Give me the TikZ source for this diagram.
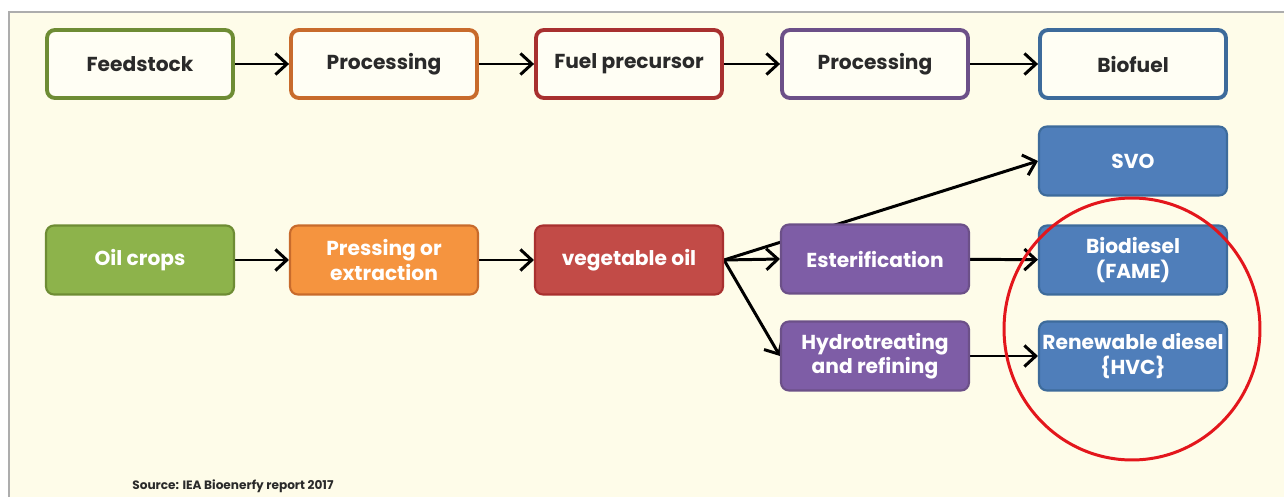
\documentclass[tikz,border=0pt]{standalone}
\usepackage{fontspec}
\setmainfont{Poppins}
\usetikzlibrary{arrows.meta}

\definecolor{paper}{HTML}{FEFCE9}
\definecolor{rim}{HTML}{ADADAD}
\definecolor{topfill}{HTML}{FFFEF4}
\definecolor{toptext}{HTML}{2A2A2A}
\definecolor{grnline}{HTML}{6E8C34}
\definecolor{orgline}{HTML}{C86B2C}
\definecolor{redline}{HTML}{A8302F}
\definecolor{purline}{HTML}{6C5088}
\definecolor{bluline}{HTML}{3D6B9B}
\definecolor{grnfill}{HTML}{8DB34B}
\definecolor{orgfill}{HTML}{F5943F}
\definecolor{redfill}{HTML}{C24B47}
\definecolor{purfill}{HTML}{7E5DA6}
\definecolor{blufill}{HTML}{4F7EBA}
\definecolor{ringred}{HTML}{E3161C}

\pgfdeclarelayer{paperlayer}
\pgfdeclarelayer{linelayer}
\pgfsetlayers{paperlayer,linelayer,main}

\tikzset{
  headbox/.style={rectangle,rounded corners=4.5pt,draw=#1,line width=2.2pt,fill=topfill,
    minimum width=3.72cm,minimum height=1.36cm,text=toptext,
    font=\bfseries\fontsize{11.5}{13.8}\selectfont},
  flowbox/.style={rectangle,rounded corners=4.5pt,draw=#1line,line width=1.2pt,fill=#1fill,
    minimum width=3.76cm,minimum height=1.38cm,text=white,align=center,inner xsep=1pt,
    font=\bfseries\fontsize{11.5}{13.8}\selectfont},
  flow/.style={line width=1.7pt,-{Straight Barb[length=6.5pt,width=12pt,line width=1.7pt]}}
}

\begin{document}
\begin{tikzpicture}[x=0.02cm,y=-0.02cm]
\useasboundingbox (0,0) rectangle (1284,497);
\begin{pgfonlayer}{paperlayer}
\fill[paper] (9,12) rectangle (1284,497);
\draw[rim,line width=0.9pt] (9,497) -- (9,12) -- (1284,12);
\end{pgfonlayer}

% header row
\node[headbox=grnline] (feed) at (140,64) {Feedstock};
\node[headbox=orgline] (proc1) at (384,64) {Processing};
\node[headbox=redline] (prec) at (629,64) {Fuel precursor};
\node[headbox=purline] (proc2) at (875,64) {Processing};
\node[headbox=bluline] (fuel) at (1133,64) {Biofuel};

% oil route
\node[flowbox=grn] (crops) at (140,260) {Oil crops};
\node[flowbox=org] (press) at (384,260) {Pressing or\\extraction};
\node[flowbox=red] (vegoil) at (629,260) {vegetable oil};
\node[flowbox=pur] (ester) at (875,259) {Esterification};
\node[flowbox=pur] (hydro) at (875,356) {Hydrotreating\\and refining};
\node[flowbox=blu] (svo) at (1133,161) {SVO};
\node[flowbox=blu] (fame) at (1133,260) {Biodiesel\\(FAME)};
\node[flowbox=blu] (hvc) at (1133,356) {Renewable diesel\\\{HVC\}};

\begin{pgfonlayer}{linelayer}
\path [flow] (feed) edge (proc1);
\path [flow] (proc1) edge (prec);
\path [flow] (prec) edge (proc2);
\path [flow] (proc2) edge (fuel);
\path [flow] (crops) edge (press);
\path [flow] (press) edge (vegoil);
\path [flow] (vegoil.east) edge (ester.west);
\path [flow] (vegoil.east) edge (svo.west);
\path [flow] (vegoil.east) edge (hydro.west);
\path [flow] (ester) edge (fame);
\path [flow] (hydro) edge (hvc);
\end{pgfonlayer}

\draw[ringred,line width=1.7pt] (1132,329) ellipse [x radius=2.56cm,y radius=2.62cm];

\node[anchor=base west,inner sep=0pt,text=toptext,font=\bfseries\fontsize{6.9}{8}\selectfont] (source) at (132,489)
  {Source: IEA Bioenerfy report 2017};
\end{tikzpicture}
\end{document}
